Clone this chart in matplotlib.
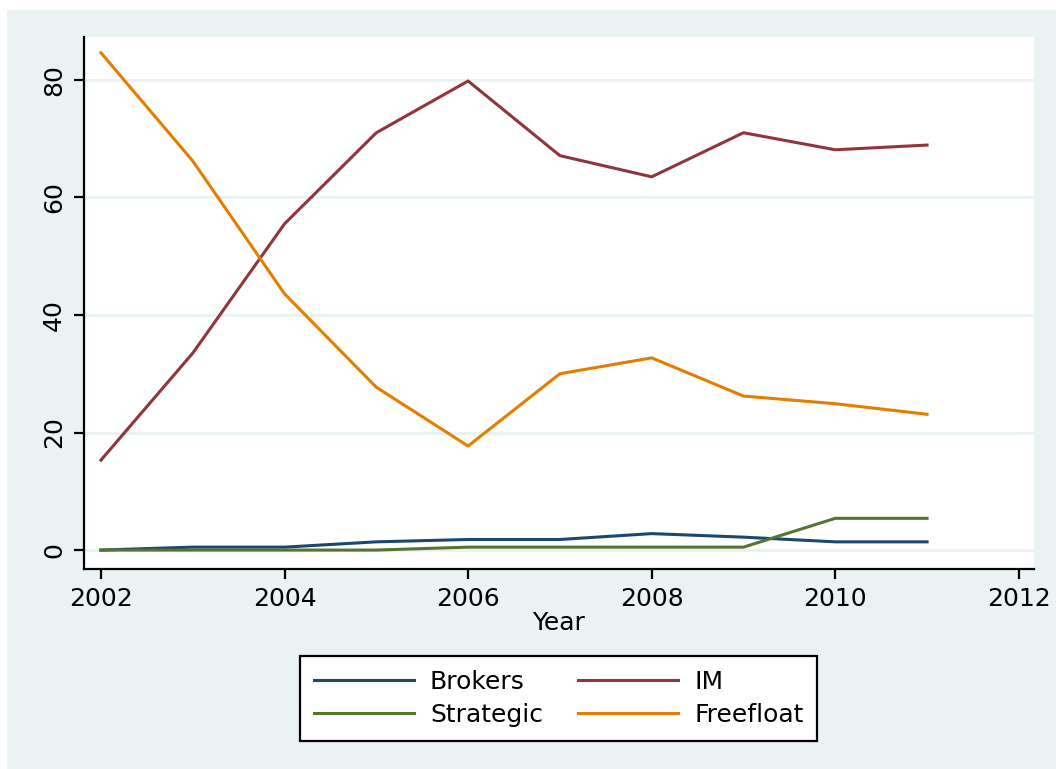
import matplotlib
matplotlib.use("Agg")
import matplotlib.pyplot as plt
from matplotlib.patches import Rectangle

years = [2002, 2003, 2004, 2005, 2006, 2007, 2008, 2009, 2010, 2011]
brokers = [0.0, 0.5, 0.5, 1.4, 1.8, 1.8, 2.8, 2.2, 1.4, 1.4]
im = [15.3, 33.5, 55.5, 71.0, 79.8, 67.1, 63.5, 71.0, 68.1, 68.9]
strategic = [0.0, 0.0, 0.0, 0.0, 0.5, 0.5, 0.5, 0.5, 5.4, 5.4]
freefloat = [84.6, 66.2, 43.6, 27.7, 17.7, 30.0, 32.7, 26.2, 24.9, 23.1]

xticks = [2002, 2004, 2006, 2008, 2010, 2012]
yticks = [0, 20, 40, 60, 80]

BG = "#EAF2F3"

plt.rcParams["font.family"] = "DejaVu Sans"

fig = plt.figure(figsize=(10.56, 7.69), dpi=100)
fig.patch.set_facecolor("white")
fig.patches.append(Rectangle((7 / 1056, 0), 1 - 7 / 1056, 759 / 769,
                             transform=fig.transFigure, facecolor=BG,
                             edgecolor="none", zorder=-10))

ax = fig.add_axes([0.0795, 0.260, 0.8995, 0.692])
ax.set_facecolor("white")

ax.plot(years, brokers, color="#1a476f", lw=2.2, label="Brokers")
ax.plot(years, im, color="#90353b", lw=2.2, label="IM")
ax.plot(years, strategic, color="#55752f", lw=2.2, label="Strategic")
ax.plot(years, freefloat, color="#e37e00", lw=2.2, label="Freefloat")

ax.set_xlim(2001.815, 2012.163)
ax.set_ylim(-3.23, 87.3)
ax.set_xticks(xticks)
ax.set_yticks(yticks)
ax.grid(axis="y", color=BG, lw=2.2)
ax.set_axisbelow(True)

for s in ["top", "right"]:
    ax.spines[s].set_visible(False)
for s in ["left", "bottom"]:
    ax.spines[s].set_linewidth(1.6)
    ax.spines[s].set_color("black")

ax.tick_params(axis="both", labelsize=18, length=7, width=1.6, pad=6)
plt.setp(ax.get_yticklabels(), rotation=90, va="center")
ax.set_xlabel("Year", fontsize=18, labelpad=0)

# legend is filled column by column: Brokers/Strategic, then IM/Freefloat
handles, labels = ax.get_legend_handles_labels()
order = [0, 2, 1, 3]
leg = fig.legend([handles[i] for i in order], [labels[i] for i in order],
                 loc="center", bbox_to_anchor=(0.529, 0.0917), ncol=2,
                 fontsize=18, frameon=True, fancybox=False, framealpha=1,
                 handlelength=4, handletextpad=0.65, columnspacing=1.4,
                 labelspacing=0.35, borderpad=0.55)
leg.get_frame().set_facecolor("white")
leg.get_frame().set_edgecolor("black")
leg.get_frame().set_linewidth(1.6)

fig.savefig("out.png", dpi=100, facecolor=fig.get_facecolor())
